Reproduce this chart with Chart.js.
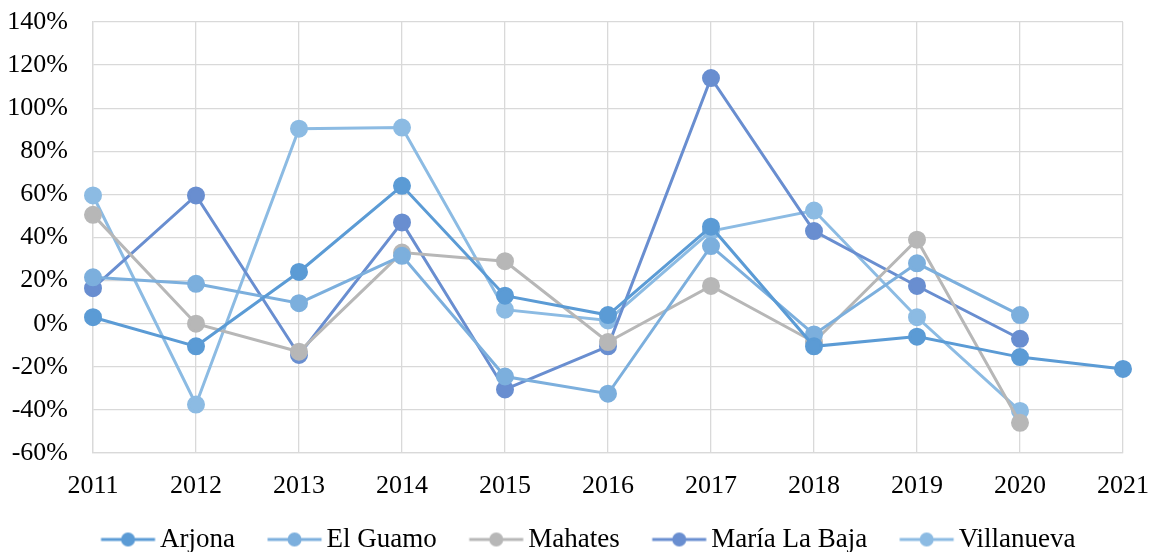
<!DOCTYPE html>
<html>
<head>
<meta charset="utf-8">
<script src="https://cdn.jsdelivr.net/npm/chart.js"></script>
<style>
  html, body { margin: 0; padding: 0; background: #fff; }
  #wrap { width: 1156px; height: 552px; }
</style>
</head>
<body>
<div id="wrap"><canvas id="chart"></canvas></div>
<script>
  const years = ['2011', '2012', '2013', '2014', '2015', '2016', '2017', '2018', '2019', '2020', '2021'];

  const arjona = [3, -10.5, 24, 64, 13, 4, 45, -10.5, -6, -15.5, -21];
  const elGuamo = [21.5, 18.5, 9.5, 31.5, -24.5, -32.5, 36, -5, 28, 4, null];
  const mahates = [50.5, 0, -13, 33, 29, -8.5, 17.5, -8.5, 39, -46, null];
  const mariaLaBaja = [16.5, 59.5, -14.5, 47, -30.5, -10.5, 114, 43, 17.5, -7, null];
  const villanueva = [59.5, -37.5, 90.5, 91, 6.5, 1.5, 43, 52.5, 3, -40.5, null];

  const font = "'Liberation Serif', 'Times New Roman', serif";
  const tickSize = 26;
  const legendSize = 27;

  // legend marker: line with a dot, pushed to the right of the box so the gap sits before it
  const legendMarker = (color) => {
    const c = document.createElement('canvas');
    c.width = 94;
    c.height = 16;
    const ctx = c.getContext('2d');
    ctx.strokeStyle = color;
    ctx.lineWidth = 3;
    ctx.beginPath();
    ctx.moveTo(38.5, 8);
    ctx.lineTo(92.5, 8);
    ctx.stroke();
    ctx.fillStyle = color;
    ctx.beginPath();
    ctx.arc(65.5, 8, 7, 0, Math.PI * 2);
    ctx.fill();
    return c;
  };

  const makeSet = (label, data, color) => ({
    label: label,
    data: data,
    borderColor: color,
    backgroundColor: color,
    pointBackgroundColor: color,
    pointBorderColor: color,
    pointRadius: 7.5,
    pointHoverRadius: 7.5,
    borderWidth: 3,
    tension: 0,
    marker: legendMarker(color)
  });

  const data = {
    labels: years,
    datasets: [
      makeSet('Arjona', arjona, '#5b9bd5'),
      makeSet('El Guamo', elGuamo, '#7cafdd'),
      makeSet('Mahates', mahates, '#b7b7b7'),
      makeSet('María La Baja', mariaLaBaja, '#698ed0'),
      makeSet('Villanueva', villanueva, '#8cbbe3')
    ]
  };

  const config = {
    type: 'line',
    data: data,
    options: {
      responsive: true,
      maintainAspectRatio: false,
      animation: false,
      layout: {
        autoPadding: false,
        padding: { left: 6, right: 14, top: 0, bottom: -11 }
      },
      scales: {
        x: {
          offset: false,
          grid: { color: '#d9d9d9', lineWidth: 1.3, drawTicks: false },
          border: { color: '#d9d9d9', width: 1.3 },
          ticks: {
            color: '#000',
            padding: 18,
            maxRotation: 0,
            font: { family: font, size: tickSize }
          },
          afterFit: (scale) => {
            scale.height = 69;
            scale.paddingLeft = 0;
            scale.paddingRight = 33;
          }
        },
        y: {
          min: -60,
          max: 140,
          grid: { color: '#d9d9d9', lineWidth: 1.3, drawTicks: false },
          border: { color: '#d9d9d9', width: 1.3 },
          ticks: {
            stepSize: 20,
            color: '#000',
            padding: 25,
            font: { family: font, size: tickSize },
            callback: (v) => v + '%'
          },
          afterFit: (scale) => {
            scale.width = 87;
            scale.paddingTop = 22;
            scale.paddingBottom = 0;
          }
        }
      },
      plugins: {
        tooltip: { enabled: false },
        legend: {
          position: 'bottom',
          labels: {
            usePointStyle: true,
            pointStyleWidth: 74,
            color: '#000',
            padding: 4,
            font: { family: font, size: legendSize },
            generateLabels: (chart) => chart.data.datasets.map((ds, i) => ({
              text: ds.label,
              pointStyle: ds.marker,
              fillStyle: ds.borderColor,
              strokeStyle: ds.borderColor,
              lineWidth: 0,
              hidden: false,
              datasetIndex: i,
              fontColor: '#000'
            }))
          }
        }
      }
    }
  };

  const myChart = new Chart(document.getElementById('chart'), config);
</script>
</body>
</html>
